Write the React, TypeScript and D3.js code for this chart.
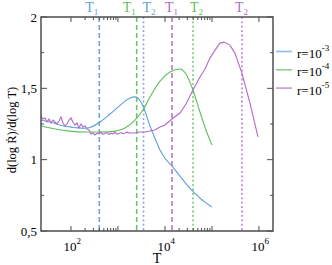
import React, { useEffect, useRef } from 'react'
import * as d3 from 'd3'

// r = 1e-3
const blueT = [23, 39, 61, 86, 110, 155, 199, 254, 414, 676, 1100, 1410, 1800, 2300, 2940, 3400, 4800, 6100, 7830, 10000, 14100, 20800, 34000, 55600, 100000]
const blueV = [1.278, 1.26, 1.24, 1.232, 1.226, 1.222, 1.22, 1.225, 1.264, 1.32, 1.38, 1.41, 1.432, 1.44, 1.415, 1.376, 1.236, 1.15, 1.068, 1.01, 0.955, 0.885, 0.8, 0.73, 0.668]

// r = 1e-4
const greenT = [23, 46, 95, 199, 414, 863, 1100, 1410, 2300, 3400, 4800, 7830, 12800, 20800, 28000, 39400, 55600, 74500, 100000]
const greenV = [1.236, 1.215, 1.2, 1.194, 1.194, 1.2, 1.208, 1.222, 1.278, 1.348, 1.439, 1.551, 1.614, 1.635, 1.6, 1.488, 1.334, 1.208, 1.103]

// r = 1e-5
const purpleT = [23, 25.3, 28, 30.9, 34, 37.5, 41.4, 45.6, 50.4, 55.6, 61.3, 67.6, 74.5, 82.2, 90.7, 100, 110, 121.7, 134, 148, 163, 180, 199, 219, 242, 266, 294, 324, 357, 394, 435, 480, 529, 583, 643, 710, 782, 863, 952, 1050, 1160, 1280, 1410, 1550, 1800, 2300, 2940, 3750, 4800, 6100, 7830, 10000, 14100, 20800, 28000, 39400, 55600, 71000, 90600, 116000, 148000, 180000, 241000, 308000, 434000, 644000, 953000]
const purpleV = [1.306, 1.285, 1.292, 1.264, 1.285, 1.257, 1.278, 1.264, 1.25, 1.271, 1.299, 1.257, 1.236, 1.25, 1.278, 1.292, 1.264, 1.243, 1.257, 1.222, 1.25, 1.229, 1.236, 1.215, 1.208, 1.18, 1.187, 1.173, 1.185, 1.18, 1.192, 1.178, 1.183, 1.19, 1.176, 1.186, 1.181, 1.192, 1.179, 1.184, 1.19, 1.182, 1.187, 1.193, 1.187, 1.187, 1.194, 1.194, 1.201, 1.208, 1.229, 1.243, 1.285, 1.327, 1.39, 1.488, 1.58, 1.635, 1.712, 1.768, 1.817, 1.824, 1.803, 1.747, 1.607, 1.397, 1.159]

const seriesExp = ['-3', '-4', '-5']
const seriesColor = ['#5f9fd9', '#5cbf5c', '#b169c9']

// characteristic temperatures
const markerSeries = [0, 1, 0, 2, 1, 2]
const markerSub = ['1', '1', '2', '1', '2', '2']
const markerT = [400, 2500, 3500, 14100, 39500, 435000]
const markerDx = [-14, -14, -1, -7, -3, -7]

const yTicks = [0.5, 1, 1.5, 2]
const yTickLabels = ['0,5', '1', '1,5', '2']
const yMinor = [0.75, 1.25, 1.75]
const xMajor = [100, 1000, 10000, 100000, 1000000]
const xLabelExp = [2, 4, 6]
const xMinor = [200, 300, 400, 500, 600, 700, 800, 900, 20000, 30000, 40000, 50000, 60000, 70000, 80000, 90000]

const App = () => {
  const svgRef = useRef<SVGSVGElement>(null)

  useEffect(() => {
    const W = 332, H = 265
    const left = 41, right = 273, top = 17, bottom = 231
    const font = 'Liberation Serif, DejaVu Serif, serif'
    const axisColor = '#4d4d4d'

    const svg = d3.select(svgRef.current)
    svg.selectAll('*').remove()
    svg.attr('width', W).attr('height', H).attr('viewBox', `0 0 ${W} ${H}`)

    const x = d3.scaleLog().domain([23, 1.99e6]).range([left, right])
    const y = d3.scaleLinear().domain([0.5, 2]).range([bottom, top])

    // marker lines
    markerT.forEach((t, i) => {
      const s = markerSeries[i]
      svg.append('line')
        .attr('x1', x(t)).attr('x2', x(t))
        .attr('y1', top).attr('y2', bottom)
        .attr('stroke', seriesColor[s])
        .attr('stroke-opacity', 0.9)
        .attr('stroke-width', 1.6)
        .attr('stroke-dasharray', markerSub[i] === '1' ? '5,3' : '1.8,2.6')
      const lbl = svg.append('text')
        .attr('x', x(t) + markerDx[i])
        .attr('y', 12)
        .attr('fill', seriesColor[s])
        .style('font-family', font)
        .style('font-size', '14px')
      lbl.append('tspan').text('T')
      lbl.append('tspan').attr('dy', 3).style('font-size', '9px').text(markerSub[i])
    })

    // curves
    const smooth = d3.line<[number, number]>()
      .x((d) => x(d[0]))
      .y((d) => y(d[1]))
      .curve(d3.curveMonotoneX)
    const raw = d3.line<[number, number]>()
      .x((d) => x(d[0]))
      .y((d) => y(d[1]))
    const series: [number[], number[]][] = [[blueT, blueV], [greenT, greenV], [purpleT, purpleV]]
    series.forEach(([ts, vs], i) => {
      const pts = ts.map((t, j) => [t, vs[j]] as [number, number])
      svg.append('path')
        .attr('d', i === 2 ? raw(pts) : smooth(pts))
        .attr('fill', 'none')
        .attr('stroke', seriesColor[i])
        .attr('stroke-width', 1.1)
    })

    // frame
    svg.append('rect')
      .attr('x', left).attr('y', top)
      .attr('width', right - left).attr('height', bottom - top)
      .attr('fill', 'none')
      .attr('stroke', axisColor)
      .attr('stroke-width', 1.5)

    const ticks = svg.append('g').attr('stroke', axisColor).attr('stroke-width', 1)
    const xTick = (t: number, len: number) => {
      ticks.append('line').attr('x1', x(t)).attr('x2', x(t)).attr('y1', bottom).attr('y2', bottom - len)
      ticks.append('line').attr('x1', x(t)).attr('x2', x(t)).attr('y1', top).attr('y2', top + len)
    }
    xMajor.forEach((t) => xTick(t, 5))
    xMinor.forEach((t) => xTick(t, 3))
    const yTick = (v: number, len: number) => {
      ticks.append('line').attr('x1', left).attr('x2', left + len).attr('y1', y(v)).attr('y2', y(v))
      ticks.append('line').attr('x1', right).attr('x2', right - len).attr('y1', y(v)).attr('y2', y(v))
    }
    yTicks.forEach((v) => yTick(v, 6))
    yMinor.forEach((v) => yTick(v, 3))

    // y tick labels
    yTicks.forEach((v, i) => {
      svg.append('text')
        .attr('x', 37).attr('y', y(v) + 4.5)
        .attr('text-anchor', 'end')
        .style('font-family', font)
        .style('font-size', '13px')
        .text(yTickLabels[i])
    })

    // x tick labels
    xLabelExp.forEach((e) => {
      const t = svg.append('text')
        .attr('x', x(Math.pow(10, e)) - 7.5).attr('y', 251)
        .style('font-family', font)
        .style('font-size', '13px')
      t.append('tspan').text('10')
      t.append('tspan').attr('dy', -7).style('font-size', '9px').text(String(e))
    })

    svg.append('text')
      .attr('x', 157).attr('y', 263)
      .attr('text-anchor', 'middle')
      .style('font-family', font)
      .style('font-size', '14px')
      .text('T')

    svg.append('text')
      .attr('transform', 'rotate(-90)')
      .attr('x', -130).attr('y', 16)
      .attr('text-anchor', 'middle')
      .style('font-family', font)
      .style('font-size', '12.5px')
      .text('d(log \u1E58)/d(log T)')

    // legend
    seriesExp.forEach((e, i) => {
      const ly = 51.5 + i * 18.3
      svg.append('line')
        .attr('x1', 276).attr('x2', 292)
        .attr('y1', ly).attr('y2', ly)
        .attr('stroke', seriesColor[i])
        .attr('stroke-opacity', 0.7)
        .attr('stroke-width', 1.6)
      const t = svg.append('text')
        .attr('x', 297).attr('y', ly + 6.5)
        .style('font-family', font)
        .style('font-size', '13px')
      t.append('tspan').text('r=10')
      t.append('tspan').attr('dy', -7).style('font-size', '9px').text(e)
    })
  }, [])

  return (
    <div style={{ position: 'fixed', left: 0, top: 0, background: '#fff' }}>
      <svg ref={svgRef} style={{ display: 'block' }}></svg>
    </div>
  )
}

export default App
